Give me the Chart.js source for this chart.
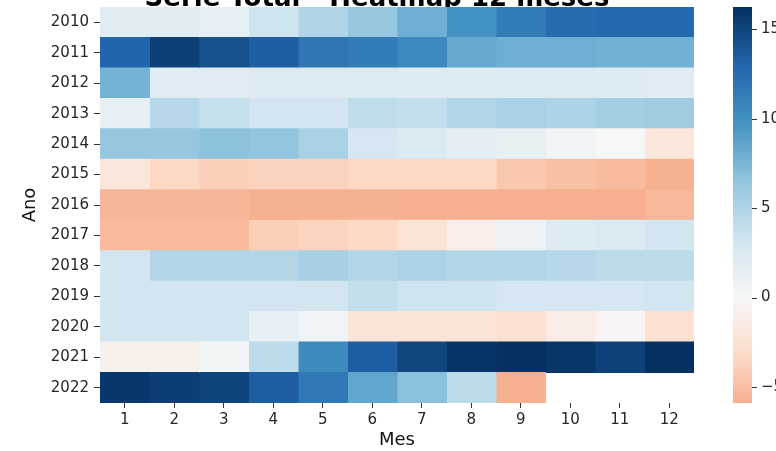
<!DOCTYPE html>
<html>
<head>
<meta charset="utf-8">
<script src="https://cdn.jsdelivr.net/npm/chart.js@4.4.0/dist/chart.umd.min.js"></script>
<style>
  html, body { margin: 0; padding: 0; background: #fff; overflow: hidden; }
  #wrap { position: relative; width: 776px; height: 451px; }
</style>
</head>
<body>
<div id="wrap"><canvas id="heat" width="776" height="451"></canvas></div>
<script>
const titleText = 'Série Total - Heatmap 12 meses';
const years = ['2010', '2011', '2012', '2013', '2014', '2015', '2016', '2017', '2018', '2019', '2020', '2021', '2022'];
const months = [1, 2, 3, 4, 5, 6, 7, 8, 9, 10, 11, 12];

const v2010 = [1.8, 1.8, 1.5, 3.4, 5.0, 6.3, 8.0, 9.8, 11.5, 12.5, 12.7, 12.7];
const v2011 = [13.0, 15.3, 14.2, 13.4, 11.8, 11.4, 10.5, 8.3, 8.0, 8.0, 7.8, 7.8];
const v2012 = [7.7, 2.0, 2.0, 2.3, 2.3, 2.3, 2.2, 2.2, 2.2, 2.3, 2.2, 2.0];
const v2013 = [1.5, 4.6, 3.8, 3.2, 3.2, 4.2, 4.0, 4.8, 5.3, 5.1, 5.6, 5.8];
const v2014 = [6.3, 6.3, 6.7, 6.5, 5.3, 2.8, 2.4, 1.6, 1.2, 0.6, 0.0, -1.9];
const v2015 = [-1.8, -3.4, -4.0, -3.8, -3.8, -3.4, -3.4, -3.4, -4.4, -4.9, -5.2, -5.8];
const v2016 = [-5.5, -5.5, -5.5, -5.8, -5.8, -5.8, -5.9, -5.9, -5.9, -5.9, -5.9, -5.4];
const v2017 = [-5.2, -5.2, -5.2, -4.0, -3.7, -3.3, -2.3, -1.0, 0.9, 2.2, 2.4, 3.1];
const v2018 = [3.1, 4.8, 4.8, 4.8, 5.4, 4.8, 5.2, 4.8, 4.8, 4.6, 4.4, 4.3];
const v2019 = [3.1, 3.1, 3.1, 3.1, 3.1, 3.9, 3.4, 3.4, 2.8, 2.8, 2.8, 3.1];
const v2020 = [3.1, 3.1, 3.1, 1.4, 0.5, -2.3, -2.3, -2.3, -2.6, -1.3, -0.3, -2.6];
const v2021 = [-0.8, -0.8, 0.4, 4.3, 10.4, 13.4, 15.0, 16.0, 16.25, 15.9, 15.2, 16.2];
const v2022 = [15.8, 15.4, 15.1, 13.5, 11.6, 8.5, 6.8, 4.3, -5.9, null, null, null];

const cbarTicks = [-5, 0, 5, 10, 15];
const cbMin = -5.9;
const cbMax = 16.25;

const rows = [v2010, v2011, v2012, v2013, v2014, v2015, v2016, v2017, v2018, v2019, v2020, v2021, v2022];

// RdBu, centred on 0 like seaborn's center=0
const rdbu = [[103,0,31],[178,24,43],[214,96,77],[244,165,130],[253,219,199],[247,247,247],
              [209,229,240],[146,197,222],[67,147,195],[33,102,172],[5,48,97]];
function colorFor(v) {
    if (v == null) return 'rgba(0,0,0,0)';
    const r = Math.max(cbMax, -cbMin);
    let t = (v + r) / (2 * r);
    t = Math.max(0, Math.min(1, t)) * 10;
    const i = Math.min(9, Math.floor(t));
    const f = t - i;
    const a = rdbu[i], b = rdbu[i + 1];
    const c = a.map((x, k) => Math.round(x + (b[k] - x) * f));
    return `rgb(${c[0]},${c[1]},${c[2]})`;
}

const datasets = months.map((m, j) => ({
    label: String(m),
    data: rows.map(r => r[j] == null ? null : [m - 0.5, m + 0.5]),
    backgroundColor: rows.map(r => colorFor(r[j])),
    borderWidth: 0,
    inflateAmount: 0.5,
    grouped: false,
    barPercentage: 1,
    categoryPercentage: 1
}));

const tickFont = { family: 'DejaVu Sans', size: 15 };
const labelFont = { family: 'DejaVu Sans', size: 18 };

const topTitle = {
    id: 'topTitle',
    beforeDatasetsDraw(chart) {
        const ctx = chart.ctx, a = chart.chartArea;
        ctx.save();
        ctx.font = 'bold 26px "DejaVu Sans"';
        ctx.fillStyle = '#000';
        ctx.textAlign = 'center';
        ctx.textBaseline = 'alphabetic';
        ctx.fillText(titleText, (a.left + a.right) / 2 - 20, a.top - 1);
        ctx.restore();
    }
};

const colorBar = {
    id: 'colorBar',
    afterDraw(chart) {
        const ctx = chart.ctx, cb = chart.scales.cb;
        const x0 = cb.left + 39, w = 19;
        const g = ctx.createLinearGradient(0, cb.top, 0, cb.bottom);
        for (let i = 0; i <= 50; i++) {
            g.addColorStop(i / 50, colorFor(cbMax - (cbMax - cbMin) * i / 50));
        }
        ctx.save();
        ctx.fillStyle = g;
        ctx.fillRect(x0, cb.top, w, cb.bottom - cb.top);
        ctx.strokeStyle = '#333';
        ctx.lineWidth = 1;
        cb.ticks.forEach(t => {
            const y = Math.round(cb.getPixelForValue(t.value)) + 0.5;
            ctx.beginPath();
            ctx.moveTo(x0 + w, y);
            ctx.lineTo(x0 + w + 5, y);
            ctx.stroke();
        });
        ctx.restore();
    }
};

function noPad(s) {
    s.paddingTop = 0; s.paddingBottom = 0; s.paddingLeft = 0; s.paddingRight = 0;
}

new Chart(document.getElementById('heat').getContext('2d'), {
    type: 'bar',
    data: { labels: years, datasets: datasets },
    plugins: [topTitle, colorBar],
    options: {
        indexAxis: 'y',
        responsive: false,
        animation: false,
        layout: { padding: { left: 0, top: 7, right: 0, bottom: 0 } },
        plugins: { legend: { display: false }, tooltip: { enabled: false } },
        scales: {
            x: {
                type: 'linear',
                position: 'bottom',
                min: 0.5,
                max: 12.5,
                bounds: 'data',
                afterFit: s => { s.height = 48; noPad(s); },
                afterBuildTicks: s => { s.ticks = months.map(m => ({ value: m })); },
                ticks: { autoSkip: false, color: '#262626', font: tickFont, padding: 3, maxRotation: 0 },
                grid: { drawOnChartArea: false, tickLength: 5, tickColor: '#333' },
                border: { display: false },
                title: { display: true, text: 'Mes', color: '#111', font: labelFont, padding: { top: 0, bottom: 0 } }
            },
            y: {
                type: 'category',
                position: 'left',
                afterFit: s => { s.width = 100; noPad(s); },
                ticks: { color: '#262626', font: tickFont, padding: 5 },
                grid: { offset: false, drawOnChartArea: false, tickLength: 6, tickColor: '#333' },
                border: { display: false },
                title: { display: true, text: 'Ano', color: '#111', font: labelFont, padding: { top: 20, bottom: 0 } }
            },
            cb: {
                type: 'linear',
                position: 'right',
                min: cbMin,
                max: cbMax,
                offset: false,
                bounds: 'data',
                afterFit: s => { s.width = 82; noPad(s); },
                afterBuildTicks: s => { s.ticks = cbarTicks.map(v => ({ value: v })); },
                ticks: {
                    color: '#262626', font: tickFont, padding: 67,
                    callback: v => v < 0 ? '\u2212' + Math.abs(v) : String(v)
                },
                grid: { drawOnChartArea: false, drawTicks: false, offset: false },
                border: { display: false }
            }
        }
    }
});
</script>
</body>
</html>
